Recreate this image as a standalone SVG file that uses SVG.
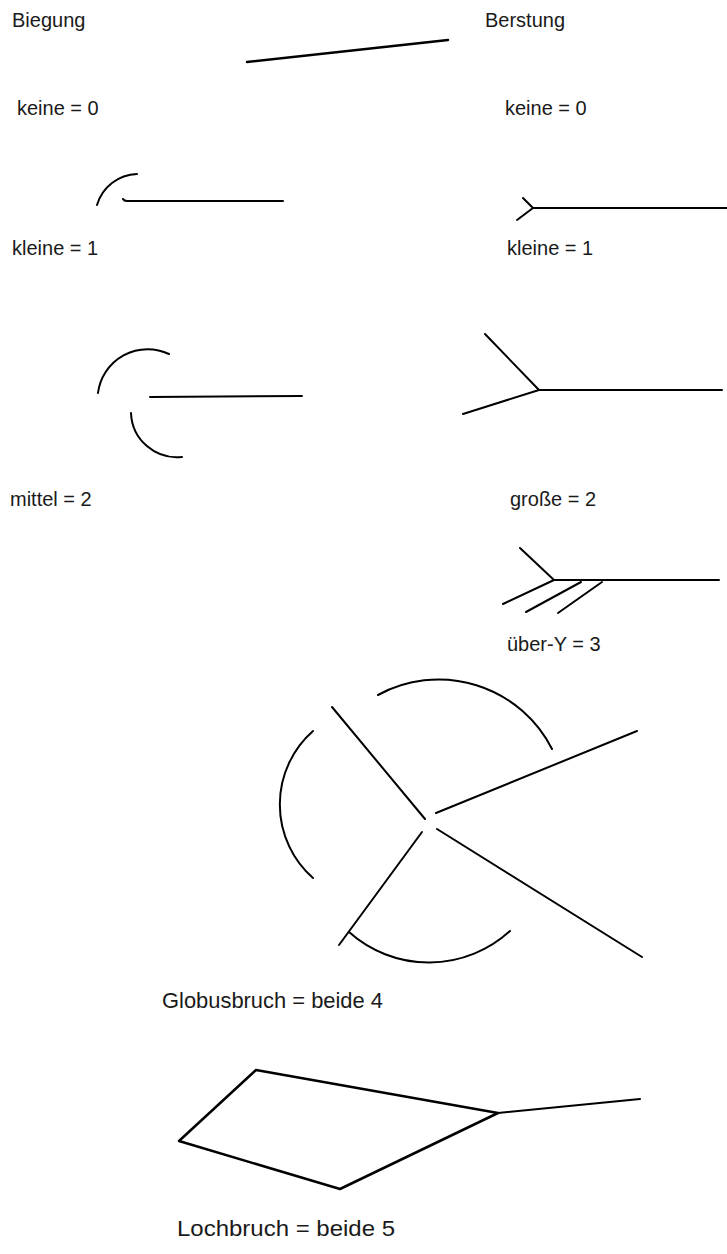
<svg xmlns="http://www.w3.org/2000/svg" width="727" height="1254" viewBox="0 0 727 1254">
<style>
text{font-family:"Liberation Sans",Arial,sans-serif;font-size:20px;fill:#1a1a1a}
.b{font-size:22px}
.s{fill:none;stroke:#000;stroke-width:2;stroke-linecap:round;stroke-linejoin:round}
.t{stroke-width:2.5}
</style>
<rect width="727" height="1254" fill="#fff"/>
<g id="labels">
<text x="12" y="27">Biegung</text>
<text x="485" y="27">Berstung</text>
<text x="17" y="115">keine = 0</text>
<text x="505" y="115">keine = 0</text>
<text x="12" y="255">kleine = 1</text>
<text x="507" y="255">kleine = 1</text>
<text x="10" y="506">mittel = 2</text>
<text x="510" y="506">große = 2</text>
<text x="507" y="651">über-Y = 3</text>
<text class="b" x="162" y="1008" textLength="221" lengthAdjust="spacingAndGlyphs">Globusbruch = beide 4</text>
<text class="b" x="177" y="1236" textLength="218" lengthAdjust="spacingAndGlyphs">Lochbruch = beide 5</text>
</g>
<g id="keine">
<line class="s t" x1="247" y1="62" x2="448" y2="40"/>
</g>
<g id="biegung-kleine">
<path class="s" d="M97,205 A43,43 0 0 1 137,174"/>
<path class="s" d="M123,199 Q124,201 127,201 L283,201"/>
</g>
<g id="berstung-kleine">
<path class="s" d="M523,198 L533,208 L517,220"/>
<line class="s" x1="533" y1="208" x2="727" y2="208"/>
</g>
<g id="biegung-mittel">
<path class="s" d="M98,393 A50,50 0 0 1 169,354"/>
<line class="s" x1="150" y1="397" x2="302" y2="396"/>
<path class="s" d="M131,413 A46,46 0 0 0 182,457"/>
</g>
<g id="berstung-gross">
<path class="s" d="M485,334 L539,390 L463,414"/>
<line class="s" x1="539" y1="390" x2="722" y2="390"/>
</g>
<g id="berstung-ueber-y">
<path class="s" d="M520,548 L554,580 L503,604"/>
<line class="s" x1="554" y1="580" x2="719" y2="580"/>
<line class="s" x1="581" y1="582" x2="526" y2="612"/>
<line class="s" x1="602" y1="582" x2="558" y2="613"/>
</g>
<g id="globusbruch">
<path class="s" d="M378,695 A127,127 0 0 1 552,749"/>
<path class="s" d="M313,731 A98,98 0 0 0 313,878"/>
<path class="s" d="M349,932 A120,120 0 0 0 510,931"/>
<line class="s" x1="332" y1="707" x2="425" y2="819"/>
<line class="s" x1="436" y1="813" x2="637" y2="731"/>
<line class="s" x1="437" y1="829" x2="642" y2="957"/>
<line class="s" x1="422" y1="832" x2="339" y2="945"/>
</g>
<g id="lochbruch">
<path class="s t" d="M256,1070 L179,1141 L340,1189 L498,1113 Z"/>
<line class="s" x1="498" y1="1113" x2="640" y2="1099"/>
</g>
</svg>
